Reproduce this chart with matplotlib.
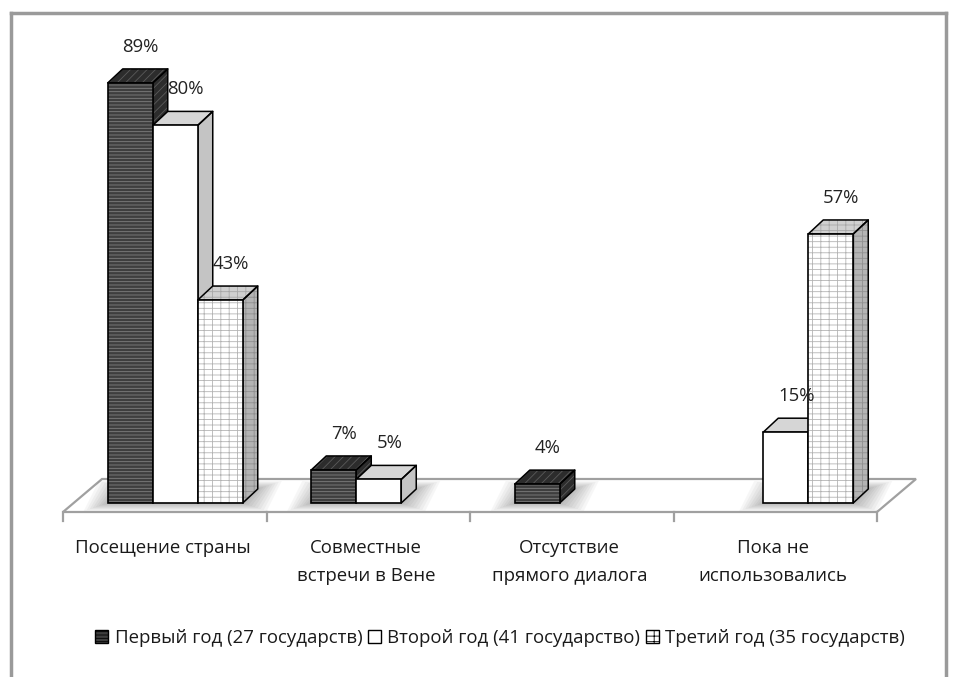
import matplotlib
matplotlib.use("Agg")
import matplotlib.pyplot as plt
from matplotlib.patches import Polygon, Patch
from matplotlib.lines import Line2D

plt.rcParams['font.family'] = ['Open Sans', 'DejaVu Sans']
plt.rcParams['hatch.linewidth'] = 0.6

categories = ["Посещение страны", "Совместные\nвстречи в Вене",
              "Отсутствие\nпрямого диалога", "Пока не\nиспользовались"]
series_names = ["Первый год (27 государств)", "Второй год (41 государство)",
                "Третий год (35 государств)"]
first_year = [89, 7, 4, None]
second_year = [80, 5, None, 15]
third_year = [43, None, None, 57]
series = [first_year, second_year, third_year]

# style per series: front face, front hatch, hatch colour, side, top
styles = [
    dict(front='#3e3e3e', fhatch='-----', fhc='#808080',
         side='#2c2c2c', shatch='////', shc='#5a5a5a',
         top='#2c2c2c', thatch='////', thc='#5a5a5a'),
    dict(front='#ffffff', fhatch=None, fhc='#ffffff',
         side='#c4c4c4', shatch=None, shc='#c4c4c4',
         top='#d6d6d6', thatch=None, thc='#d6d6d6'),
    dict(front='#ffffff', fhatch='|+--', fhc='#b4b4b4',
         side='#b4b4b4', shatch='|+--', shc='#909090',
         top='#d0d0d0', thatch='|+--', thc='#a8a8a8'),
]

W, H = 956, 677
fig = plt.figure(figsize=(W / 100, H / 100), dpi=100)

# axes in pixel geometry: front floor edge spans x 63..877, y=512
px_left, px_right, px_front, px_top = 63, 877, 512, 40
ax = fig.add_axes([px_left / W, (H - px_front) / H,
                   (px_right - px_left) / W, (px_front - px_top) / H])
ax.set_axis_off()
unit_x = (px_right - px_left) / 4.0           # px per category
unit_y = 4.72                                  # px per percent
base_px = 503
ax.set_xlim(-0.5, 3.5)
ax.set_ylim(-(px_front - base_px) / unit_y, (base_px - px_top) / unit_y)

ymin = ax.get_ylim()[0]
# floor
fdx = 39 / unit_x
fdy_back = (base_px - 479) / unit_y
floor = Polygon([(-0.5, ymin), (-0.5 + fdx, fdy_back), (3.5 + fdx, fdy_back),
                 (3.5, ymin)], closed=True, facecolor='white',
                edgecolor='#a0a0a0', lw=1.6, clip_on=False, zorder=0.5)
ax.add_patch(floor)
for k in range(5):
    ax.add_line(Line2D([k - 0.5, k - 0.5], [ymin, ymin - 9 / unit_y],
                       color='#a0a0a0', lw=1.6, clip_on=False, zorder=0.6))

bw = 45 / unit_x
shift = 10.5 / unit_x
ddx = 15 / unit_x
ddy = 14 / unit_y

# soft shadows on the floor around each bar group base
for i in range(len(categories)):
    present = [s for s in range(3) if series[s][i] is not None]
    xs_l = i + shift + (min(present) - 1) * bw - bw / 2
    xs_r = i + shift + (max(present) - 1) * bw + bw / 2 + ddx
    for k in range(8):
        gx = (3 + 3.0 * k) / unit_x
        gy = (1 + 1.0 * k) / unit_y
        ax.add_patch(Polygon([(xs_l - gx, -gy), (xs_l - gx + ddx, ddy + gy),
                              (xs_r + gx, ddy + gy), (xs_r + gx - ddx, -gy)],
                             closed=True, facecolor='#000000', alpha=0.035,
                             lw=0, zorder=0.7, clip_on=False))

# bars
z = 2.0
for i in range(len(categories)):
    for s, vals in enumerate(series):
        v = vals[i]
        if v is None:
            continue
        st = styles[s]
        xc = i + shift + (s - 1) * bw
        xl, xr = xc - bw / 2, xc + bw / 2
        side = [(xr, 0), (xr + ddx, ddy), (xr + ddx, v + ddy), (xr, v)]
        top = [(xl, v), (xl + ddx, v + ddy), (xr + ddx, v + ddy), (xr, v)]
        for pts, fc, ht, hc in [(side, st['side'], st['shatch'], st['shc']),
                                (top, st['top'], st['thatch'], st['thc'])]:
            ax.add_patch(Polygon(pts, closed=True, facecolor=fc, hatch=ht,
                                 edgecolor=hc, lw=0, zorder=z, clip_on=False))
            ax.add_patch(Polygon(pts, closed=True, fill=False,
                                 edgecolor='black', lw=1.1, zorder=z + 0.001,
                                 clip_on=False, joinstyle='round'))
        ax.bar(xc, v, bw, color=st['front'], hatch=st['fhatch'],
               edgecolor=st['fhc'], lw=0, zorder=z + 0.002, clip_on=False)
        ax.bar(xc, v, bw, fill=False, edgecolor='black', lw=1.2,
               zorder=z + 0.003, clip_on=False)
        ax.text(xc + ddx * 0.7, v + 36 / unit_y, f"{v}%", ha='center',
                va='center', fontsize=13.3, color='#222222', zorder=10)
        z += 0.01

# category labels
for i, c in enumerate(categories):
    ax.text(i - 0.01, ymin - 27 / unit_y, c, ha='center', va='top',
            fontsize=13.4, color='#1a1a1a', linespacing=1.7)

# legend
handles = []
for s in range(3):
    st = styles[s]
    handles.append(Patch(facecolor=st['front'], edgecolor='black',
                         hatch=st['fhatch'], lw=1.0))
leg = fig.legend(handles, series_names, loc='center',
                 bbox_to_anchor=(500 / W, 1 - 638 / H), ncol=3, frameon=False,
                 fontsize=13.4, handlelength=0.7, handleheight=0.7,
                 handletextpad=0.35, columnspacing=0.3)
for t in leg.get_texts():
    t.set_color('#1a1a1a')

# outer border
for (x0, y0, x1, y1) in [(11, 13, 11, H), (11, 13, 946, 13), (946, 13, 946, H)]:
    fig.add_artist(Line2D([x0 / W, x1 / W], [1 - y0 / H, 1 - y1 / H],
                          color='#9a9a9a', lw=2.5, transform=fig.transFigure))

fig.savefig("out.png", dpi=100)
